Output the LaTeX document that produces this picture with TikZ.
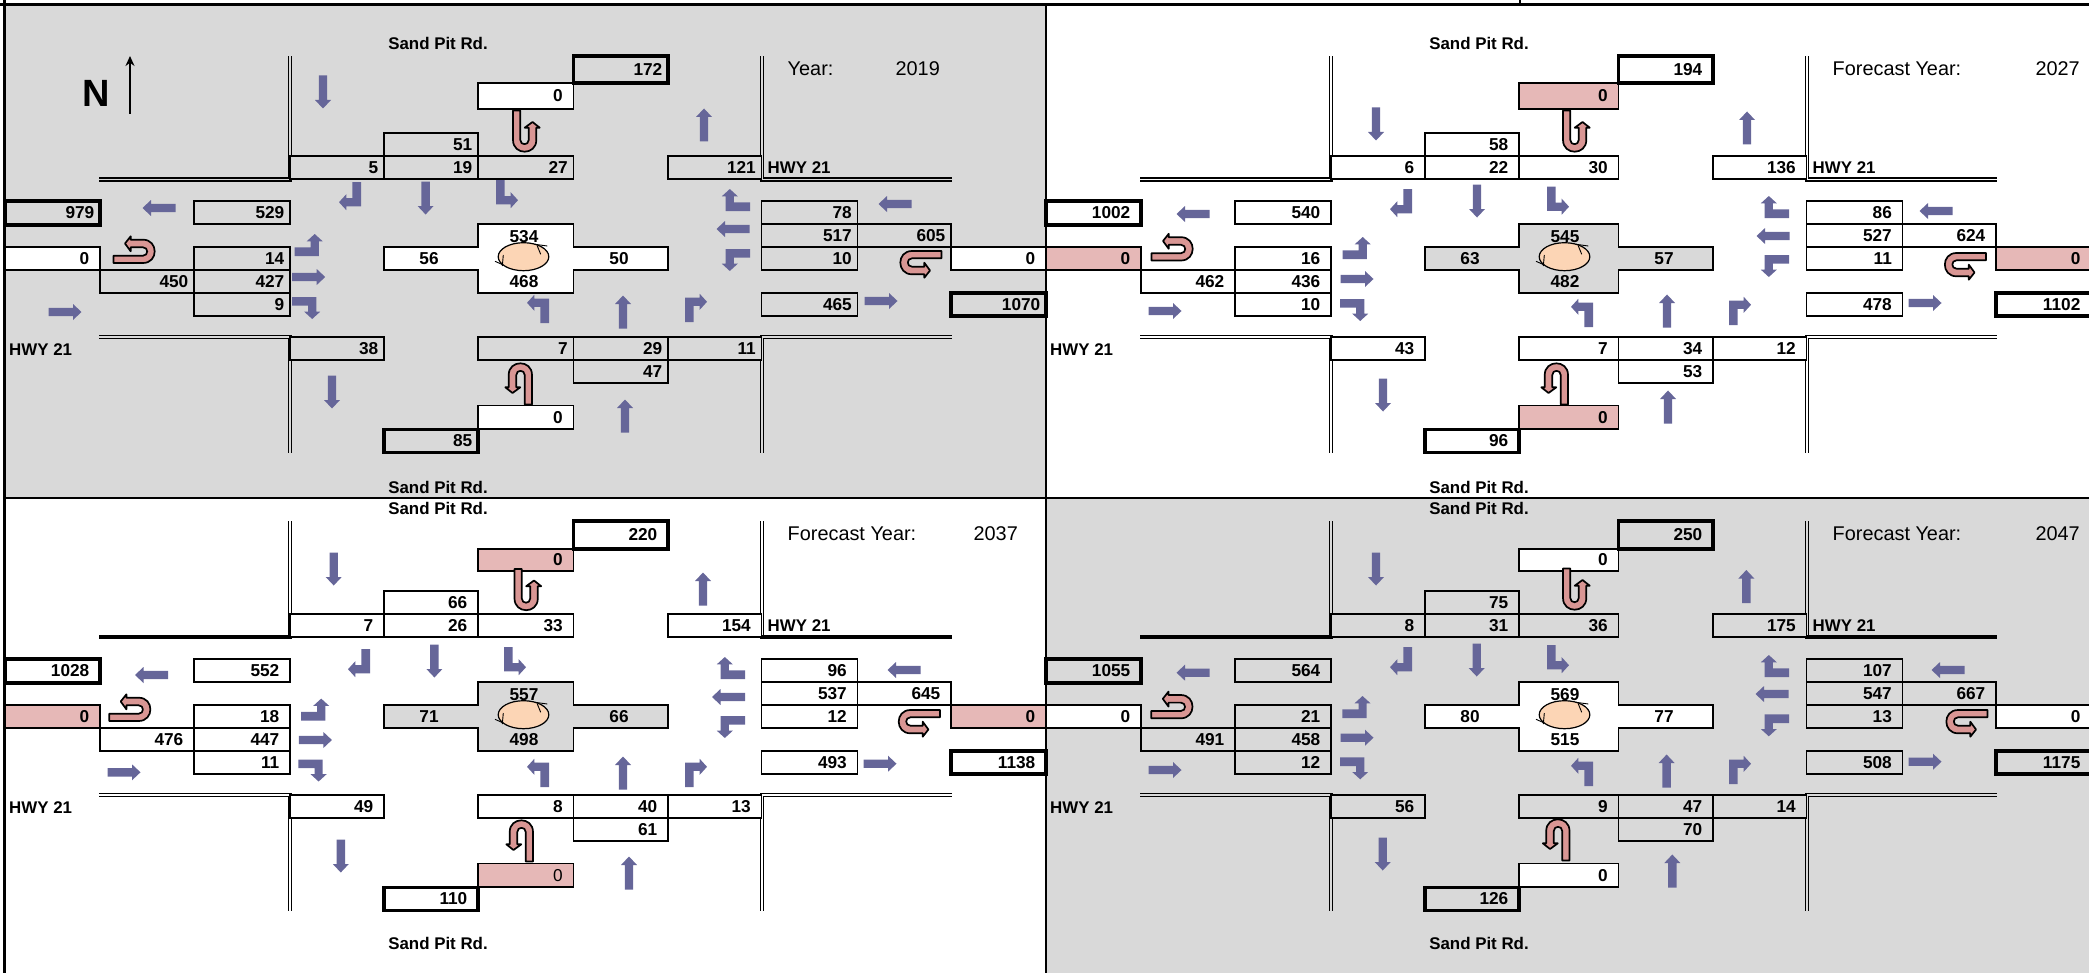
\documentclass[tikz,border=0pt]{standalone}
\usepackage{fontspec}
\setmainfont{Liberation Sans}
\usetikzlibrary{arrows.meta}
\definecolor{panelgray}{RGB}{217, 217, 217}
\definecolor{zerored}{RGB}{230, 184, 183}
\definecolor{uturnred}{RGB}{217, 150, 148}
\definecolor{laneblue}{RGB}{102, 102, 153}
\definecolor{circlepeach}{RGB}{252, 213, 181}
\tikzset{
  cellline/.style={draw=black, line width=0.016cm},
  thickcell/.style={line width=0.032cm},
  celltext/.style={anchor=east, inner sep=0pt, font=\bfseries\fontsize{4.9}{5.5}\selectfont},
  roadpair/.style={draw=black, line width=0.015cm, double=\cf, double distance=0.013cm},
  roadsolid/.style={draw=black, line width=0.036cm},
  roadname/.style={anchor=west, inner sep=0pt, font=\bfseries\fontsize{4.8}{5.5}\selectfont},
  yearname/.style={inner sep=0pt, font=\fontsize{5.65}{6.5}\selectfont},
  frameline/.style={draw=black, line width=0.03cm},
  fatarrow/.pic={\fill[laneblue] (-16.5,-4.2) -- (8,-4.2) -- (8,-8) -- (16.5,0) -- (8,8) -- (8,4.2) -- (-16.5,4.2) -- cycle;},
  bendleft/.pic={\fill[laneblue] (-14,11) -- (10.3,11) -- (10.3,-3.7) -- (14.2,-3.7) -- (6.2,-11) -- (-1.8,-3.7) -- (2.2,-3.7) -- (2.2,2.3) -- (-14,2.3) -- cycle;},
  bendright/.pic={\fill[laneblue] (-14,-11) -- (10.3,-11) -- (10.3,3.7) -- (14.2,3.7) -- (6.2,11) -- (-1.8,3.7) -- (2.2,3.7) -- (2.2,-2.3) -- (-14,-2.3) -- cycle;},
  uturn/.pic={\draw[fill=uturnred, line width=0.017cm, line join=round] (-21.5,13) -- (8,13) .. controls (23.6,13) and (23.6,-10.3) .. (8,-10.3) -- (-4.3,-10.3) -- (-4.3,-13.7) -- (-10,-6.5) -- (-4.3,1.3) -- (-4.3,-2.7) -- (8,-2.7) .. controls (13.6,-2.7) and (13.6,5.7) .. (8,5.7) -- (-21.5,5.7) -- cycle;}
}
\newcommand{\cell}[8][]{
  \draw[cellline,fill=\cf,#1] (#4,#6) rectangle (#5,#7);
  \node[celltext] (#3) at ({#5-#2},{(#6+#7)/2}) {#8};
}
\newcommand{\lanearrows}[1]{
  \foreach \ax/\ay/\kind/\turn in {#1} {\pic[rotate=\turn] at (\ax,\ay) {\kind};}
}
\begin{document}
\begin{tikzpicture}[x=0.01cm, y=-0.01cm]
  \useasboundingbox (0,0) rectangle (2089,973);
  \fill[panelgray] (5,5) rectangle (1046,498);
  \fill[panelgray] (1046,498) rectangle (2089,973);

  \foreach \pn/\dx/\dy/\rs/\pad/\cf/\zf/\xf/\bz/\ta/\tb/\tc/\roof/\yrlabel/\yrx/\yr/\vNout/\vSup/\vSr/\vSt/\vSl/\vNe/\vWout/\vWb/\vEl/\vEup/\vEt/\vEr/\vAw/\vCn/\vCs/\vAe/\vWr/\vWt/\vEw/\vWl/\vEb/\vEout/\vSw/\vNl/\vNt/\vNr/\vNup/\vSout in {%
    a/0/0/0/5/panelgray/white/white/bf/56/83/109/0/Year:/917.7/2019/172/51/5/19/27/121/979/529/14/450/427/9/56/534/468/50/78/517/605/10/465/1070/38/7/29/11/47/85,%
    b/1041/0/4/10/white/zerored/panelgray/bf/56/83/109/0/Forecast Year:/1012.6/2027/194/58/6/22/30/136/1002/540/16/462/436/10/63/545/482/57/86/527/624/11/478/1102/43/7/34/12/53/96,%
    c/0/458/0/10/white/zerored/panelgray/md/63/91/112.7/1/Forecast Year:/995.7/2037/220/66/7/26/33/154/1028/552/18/476/447/11/71/557/498/66/96/537/645/12/493/1138/49/8/40/13/61/110,%
    d/1041/458/4/10/panelgray/white/white/bf/63/91/112.7/1/Forecast Year:/1012.6/2047/250/75/8/31/36/175/1055/564/21/491/458/12/80/569/515/77/107/547/667/13/508/1175/56/9/47/14/70/126%
  } {
    \begin{scope}[shift={(\dx,\dy)}]
      \draw[roadpair] (99,337) -- (290,337) -- (290,453);
      \ifnum\roof=1
        \draw[roadpair] (290,\ta) -- (290,181);
        \draw[roadsolid] (99,179) -- (291,179);
      \else
        \draw[roadpair] (99,179.5) -- (290,179.5) -- (290,\ta);
      \fi
      \draw[cellline,fill=\xf] (384,247) -- (478,247) -- (478,224) -- (573.4+\rs,224) -- (573.4+\rs,247) -- (668+\rs,247) -- (668+\rs,270) -- (573.4+\rs,270) -- (573.4+\rs,293) -- (478,293) -- (478,270) -- (384,270) -- cycle;
      \draw[line width=0.012cm, fill=circlepeach] (523.5,256.7) ellipse [x radius=25.3, y radius=14];
      \draw[line width=0.009cm] (535,244.3) -- (547.3,246) (537.3,246) -- (540.7,254.3) (495,261.3) -- (503.3,265) (503.3,255) -- (502.3,266);
      \node[celltext, anchor=center] (\pn-cn) at (524,237) {\vCn};
      \node[celltext, anchor=center] (\pn-cs) at (524,281.7) {\vCs};
      \node[celltext, anchor=center] (\pn-aw) at (429,258.5) {\vAw};
      \node[celltext, anchor=center] (\pn-ae) at (619+\rs,258.5) {\vAe};
      \cell[thickcell]{\pad}{\pn-wout}{5}{100}{201}{225}{\vWout}
      \cell{\pad}{\pn-wb}{194}{290}{201}{224}{\vWb}
      \cell[fill=\zf]{10}{\pn-wz}{5}{100}{247}{270}{0}
      \cell{\pad}{\pn-el}{194}{290}{247}{270}{\vEl}
      \cell{\pad}{\pn-eup}{100}{194}{270}{293}{\vEup}
      \cell{\pad}{\pn-et}{194}{290}{270}{293}{\vEt}
      \cell{\pad}{\pn-er}{194}{290}{293}{316}{\vEr}
      \cell{\pad}{\pn-sr}{290}{384}{156}{179}{\vSr}
      \cell{\pad}{\pn-st}{384}{478}{156}{179}{\vSt}
      \cell{\pad}{\pn-sup}{384}{478}{133}{156}{\vSup}
      \cell{\pad}{\pn-sl}{478}{573.4+\rs}{156}{179}{\vSl}
      \cell[fill=\zf]{10}{\pn-nz}{478}{573.4+\rs}{\tb}{\tc}{0}
      \cell{\pad}{\pn-sw}{290}{384}{337}{360}{\vSw}
      \cell{\pad}{\pn-nl}{478}{573.4+\rs}{337}{360}{\vNl}
      \cell[fill=\zf]{10}{\pn-sz}{478}{573.4+\rs}{405.5}{429}{\csname\bz series\endcsname 0}
      \cell[thickcell]{\pad}{\pn-sout}{384}{478}{429.5}{452.5}{\vSout}
      \node[roadname] (\pn-hwyw) at (8.5,350) {HWY 21};
      \node[roadname, anchor=center] (\pn-sandn) at (438,\ta-13) {Sand Pit Rd.};
      \node[roadname, anchor=center] (\pn-sands) at (438,487-\dy*0.004) {Sand Pit Rd.};
      \begin{scope}[shift={(\rs,0)}]
        \draw[roadpair] (951.5,337) -- (762,337) -- (762,453);
        \ifnum\roof=1
          \draw[roadpair] (762,\ta) -- (762,181);
          \draw[roadsolid] (761,179) -- (951.5,179);
        \else
          \draw[roadpair] (951.5,179.5) -- (762,179.5) -- (762,\ta);
        \fi
        \cell[thickcell]{\pad}{\pn-nout}{573.4}{668}{\ta}{\tb}{\vNout}
        \cell{\pad}{\pn-ne}{668}{761.5}{156}{179}{\vNe}
        \cell{\pad}{\pn-wr}{761.5}{857.5}{201}{224}{\vWr}
        \cell{\pad}{\pn-wt}{761.5}{857.5}{224}{247}{\vWt}
        \cell{\pad}{\pn-ew}{857.5}{951}{224}{247}{\vEw}
        \cell{\pad}{\pn-wl}{761.5}{857.5}{247}{270}{\vWl}
        \cell[fill=\zf]{10}{\pn-ez}{951}{1046}{247}{270}{0}
        \cell{\pad}{\pn-eb}{761.5}{857.5}{293}{316}{\vEb}
        \cell[thickcell]{\pad}{\pn-eout}{951}{1046}{293}{316}{\vEout}
        \cell{\pad}{\pn-nt}{573.4}{668}{337}{360}{\vNt}
        \cell{\pad}{\pn-nr}{668}{761.5}{337}{360}{\vNr}
        \cell{\pad}{\pn-nup}{573.4}{668}{360}{383}{\vNup}
        \node[roadname] (\pn-hwye) at (767,167.5) {HWY 21};
        \node[yearname, anchor=west] (\pn-yrlabel) at (787,\ta+13) {\yrlabel};
        \node[yearname] (\pn-yr) at (\yrx,\ta+13) {\yr};
      \end{scope}
    \end{scope}
  }

  \lanearrows{323/92/fatarrow/-90, 350/196/bendright/-90, 425.6/198/fatarrow/-90, 507/194/bendleft/-90,
    704/125/fatarrow/90, 736/200/bendright/180, 733/229/fatarrow/180, 736/260/bendleft/180,
    895/204/fatarrow/180, 881/301/fatarrow/0, 538/309/bendleft/90, 623/312/fatarrow/90,
    696/308/bendright/90, 625/416/fatarrow/90, 159/208/fatarrow/180, 65/312/fatarrow/0,
    308.5/245/bendleft/0, 308.7/277/fatarrow/0, 306/308/bendright/0, 332/392/fatarrow/-90,
    135/250/uturn/0, 526/132/uturn/-90, 920/264/uturn/180, 519/383/uturn/90}
  \lanearrows{1376/124/fatarrow/-90, 1401/203/bendright/-90, 1477/201/fatarrow/-90, 1558/200.5/bendleft/-90,
    1747/128/fatarrow/90, 1775/207/bendright/180, 1773/236/fatarrow/180, 1775/266/bendleft/180,
    1936/211/fatarrow/180, 1925/303/fatarrow/0, 1582/313/bendleft/90, 1667/311/fatarrow/90,
    1740/311/bendright/90, 1668/407/fatarrow/90, 1193/214/fatarrow/180, 1165/311/fatarrow/0,
    1356.5/248/bendleft/0, 1357/279/fatarrow/0, 1354/310/bendright/0, 1383/395/fatarrow/-90,
    1173/247.5/uturn/0, 1576/132/uturn/-90, 1964.5/266/uturn/180, 1555/383/uturn/90}
  \lanearrows{333.7/569/fatarrow/-90, 359/663/bendright/-90, 434.4/661/fatarrow/-90, 515/661/bendleft/-90,
    703/589/fatarrow/90, 731/668/bendright/180, 728.5/697/fatarrow/180, 731/727/bendleft/180,
    904/670/fatarrow/180, 880/763.7/fatarrow/0, 538/773/bendleft/90, 623/773/fatarrow/90,
    696/773/bendright/90, 629/873/fatarrow/90, 151.5/675/fatarrow/180, 124/772.3/fatarrow/0,
    315/709.6/bendleft/0, 315.4/740/fatarrow/0, 312.4/770.5/bendright/0, 340.8/856/fatarrow/-90,
    130.7/708/uturn/0, 527.5/590.5/uturn/-90, 918.4/723/uturn/180, 520/840/uturn/90}
  \lanearrows{1376/569/fatarrow/-90, 1401/661/bendright/-90, 1476.7/660/fatarrow/-90, 1558/659/bendleft/-90,
    1746.3/586.5/fatarrow/90, 1775/666/bendright/180, 1772/694/fatarrow/180, 1775/725.3/bendleft/180,
    1948/670/fatarrow/180, 1925/761.7/fatarrow/0, 1582/772/bendleft/90, 1666.6/771/fatarrow/90,
    1740/770/bendright/90, 1672.3/871/fatarrow/90, 1193/672.7/fatarrow/180, 1165/770/fatarrow/0,
    1356.3/707/bendleft/0, 1357/737.7/fatarrow/0, 1354/768.3/bendright/0, 1382.7/854/fatarrow/-90,
    1172.8/705.3/uturn/0, 1576/590/uturn/-90, 1966/723/uturn/180, 1556.5/839/uturn/90}

  \node[inner sep=0pt, font=\bfseries\fontsize{10.8}{12}\selectfont] (north) at (96,93) {N};
  \coordinate (ntail) at (130,114);
  \coordinate (nhead) at (130,56);
  \draw[line width=0.013cm, -{Stealth[length=0.1cm, width=0.09cm]}] (ntail) -- (nhead);

  \draw[cellline] (1046,5) -- (1046,973);
  \draw[cellline] (5,498) -- (2089,498);
  \draw[cellline] (1520,0) -- (1520,5);
  \draw[frameline] (0,4.4) -- (2089,4.4);
  \draw[frameline] (4.7,0) -- (4.7,973);
\end{tikzpicture}
\end{document}
